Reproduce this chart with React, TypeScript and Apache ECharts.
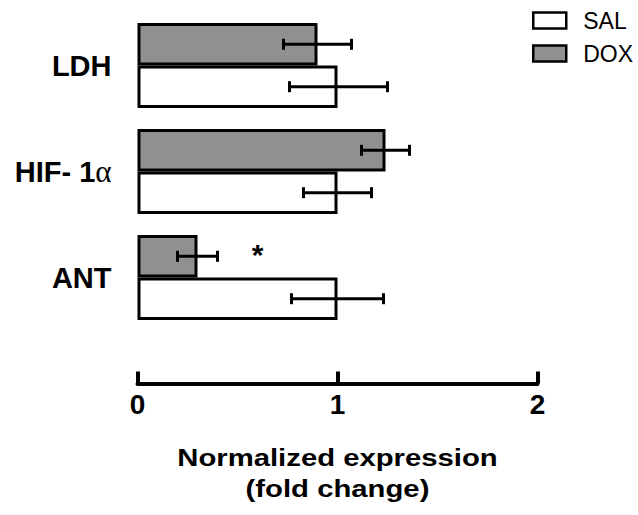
import React, { useEffect, useRef } from 'react';
import * as echarts from 'echarts';

const categories = ['LDH', 'HIF- 1α', 'ANT'];
const seriesNames = ['SAL', 'DOX'];
const salMean = [1.0, 1.0, 1.0];
const salLow = [0.76, 0.83, 0.77];
const salHigh = [1.25, 1.17, 1.23];
const doxMean = [0.9, 1.24, 0.3];
const doxLow = [0.73, 1.12, 0.2];
const doxHigh = [1.07, 1.36, 0.4];
const doxMarks = ['', '', '*'];
const doxMarkAt = [0, 0, 0.6];
const xTicks = [0, 1, 2];
const axisTitle = ['Normalized expression', '(fold change)'];

const FONT = 'Liberation Sans, Arial, sans-serif';

export default function App() {
  const ref = useRef<HTMLDivElement>(null);
  useEffect(() => {
    if (!ref.current) return;
    const chart = echarts.init(ref.current, null, { renderer: 'svg' });

    const makeErr = (low: number[], high: number[], side: number, marks?: string[], markAt?: number[]) => ({
      type: 'custom',
      z: 5,
      encode: { x: [1, 2], y: 0 },
      data: categories.map((_, i) => [i, low[i], high[i], markAt ? markAt[i] : 0, marks ? marks[i] : '']),
      renderItem: (params: any, api: any) => {
        const cat = api.value(0);
        const lo = api.coord([api.value(1), cat]);
        const hi = api.coord([api.value(2), cat]);
        const band = api.size([0, 1])[1];
        const y = lo[1] + side * band * 0.8 / 4;
        const cap = 5.5;
        const st = { stroke: '#000', lineWidth: 3 };
        const children: any[] = [
          { type: 'line', shape: { x1: lo[0], y1: y, x2: hi[0], y2: y }, style: st },
          { type: 'line', shape: { x1: lo[0], y1: y - cap, x2: lo[0], y2: y + cap }, style: st },
          { type: 'line', shape: { x1: hi[0], y1: y - cap, x2: hi[0], y2: y + cap }, style: st },
        ];
        const mk = marks ? marks[params.dataIndex] : '';
        if (mk) {
          const p = api.coord([markAt![params.dataIndex], cat]);
          children.push({
            type: 'text',
            x: p[0],
            y: y - 2,
            style: { text: mk, fontSize: 30, fontWeight: 'bold', fontFamily: FONT, fill: '#000', align: 'center', verticalAlign: 'middle' },
          });
        }
        return { type: 'group', children };
      },
    });

    chart.setOption({
      animation: false,
      backgroundColor: '#fff',
      grid: { left: 137.5, right: 100.5, top: 12.5, bottom: 184.5, containLabel: false },
      legend: {
        data: seriesNames,
        orient: 'vertical',
        left: 532,
        top: 9,
        padding: 0,
        itemWidth: 33,
        itemHeight: 16,
        itemGap: 10,
        icon: 'rect',
        textStyle: { fontSize: 23, fontFamily: FONT, color: '#000', padding: [0, 0, 0, 12], lineHeight: 16 },
        itemStyle: { borderWidth: 2.5, borderColor: '#000' },
      },
      xAxis: {
        type: 'value',
        min: xTicks[0],
        max: xTicks[xTicks.length - 1],
        interval: 1,
        offset: 53,
        axisLine: { show: true, lineStyle: { color: '#000', width: 4 } },
        axisTick: { show: true, inside: true, length: 12, lineStyle: { color: '#000', width: 4 } },
        splitLine: { show: false },
        axisLabel: { fontSize: 28, fontWeight: 'bold', fontFamily: FONT, color: '#000', margin: 7 },
      },
      yAxis: {
        type: 'category',
        data: categories,
        inverse: true,
        axisLine: { show: false },
        axisTick: { show: false },
        axisLabel: {
          margin: 26,
          formatter: (v: string) =>
            v.endsWith('α') ? `{b|${v.slice(0, -1)}}{a|α}` : `{b|${v}}`,
          rich: {
            b: { fontSize: 29, fontWeight: 'bold', fontFamily: FONT, color: '#000' },
            a: { fontSize: 31, fontFamily: 'Liberation Serif, serif', color: '#000' },
          },
        },
      },
      series: [
        {
          name: 'DOX',
          type: 'bar',
          data: doxMean,
          barGap: '0%',
          barCategoryGap: '20%',
          itemStyle: { color: '#909090', borderColor: '#000', borderWidth: 3 },
        },
        {
          name: 'SAL',
          type: 'bar',
          data: salMean,
          barGap: '0%',
          barCategoryGap: '20%',
          itemStyle: { color: '#ffffff', borderColor: '#000', borderWidth: 3 },
        },
        makeErr(doxLow, doxHigh, -1, doxMarks, doxMarkAt),
        makeErr(salLow, salHigh, 1),
      ],
      graphic: [
        {
          type: 'text',
          x: 337.5,
          y: 458,
          scaleX: 1.22,
          style: { text: axisTitle[0], fontSize: 24, fontWeight: 'bold', fontFamily: FONT, fill: '#000', align: 'center', verticalAlign: 'middle' },
        },
        {
          type: 'text',
          x: 337.5,
          y: 489,
          scaleX: 1.22,
          style: { text: axisTitle[1], fontSize: 24, fontWeight: 'bold', fontFamily: FONT, fill: '#000', align: 'center', verticalAlign: 'middle' },
        },
      ],
    });
    return () => chart.dispose();
  }, []);
  return <div ref={ref} style={{ position: 'fixed', left: 0, top: 0, width: 638, height: 515, background: '#fff' }} />;
}
